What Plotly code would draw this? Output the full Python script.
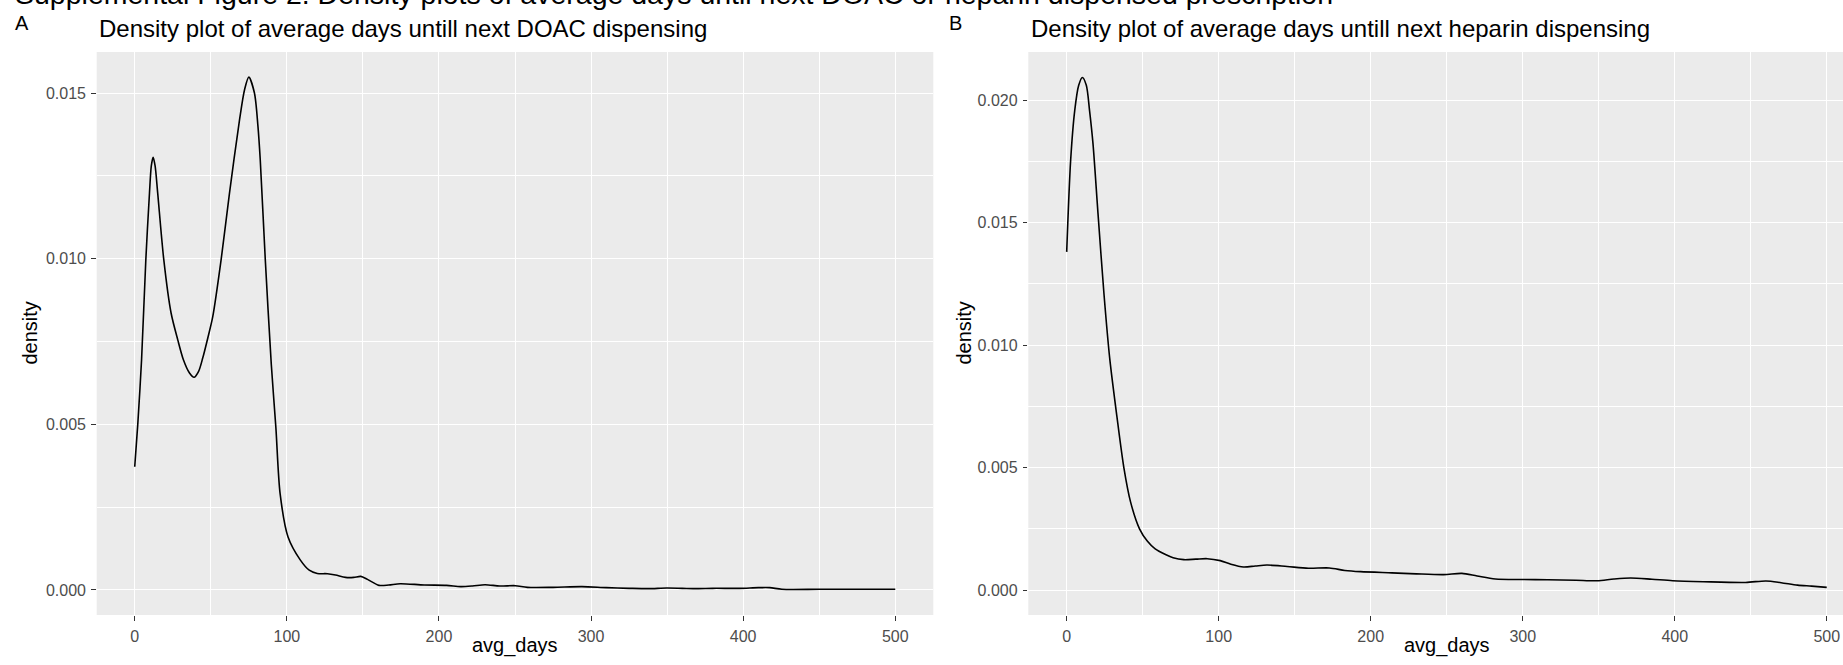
import plotly.graph_objects as go

# ---------------- data ----------------
doac_days = [0, 2, 4.5, 7.3, 9.7, 10.9, 12.1, 13.4, 15.1, 19.1, 23.9, 28.3, 32, 36, 39, 42,
             44.7, 48, 51.3, 56.8, 62.3, 68.9, 72.2, 75, 78.7, 81, 82.5, 85.8, 89.8, 92.8,
             95.6, 100.8, 108.8, 114.7, 120, 126.7, 132, 138.6, 144, 148.6, 153, 160.6,
             167, 174.5, 190.4, 205, 214.3, 222, 230.3, 240, 250.2, 258.2, 275, 294, 310,
             325, 337.8, 349.8, 360, 369.7, 380, 397.6, 410, 417.5, 425.5, 450, 475, 500]
doac_density = [0.00372, 0.0050, 0.00695, 0.00997, 0.01198, 0.0128, 0.01306, 0.0128, 0.01198,
                0.00997, 0.00836, 0.00755, 0.00695, 0.00655, 0.00642, 0.0066, 0.0070,
                0.0076, 0.00825, 0.00997, 0.01198, 0.01419, 0.0151, 0.01548, 0.0150,
                0.0140, 0.0130, 0.0100, 0.0068, 0.0049, 0.0029, 0.0016, 0.00091, 0.0006,
                0.0005, 0.00049, 0.00045, 0.00038, 0.00038, 0.00041, 0.00032, 0.00014,
                0.00015, 0.00019, 0.00015, 0.00014, 0.0001, 0.00012, 0.00016, 0.00012,
                0.00013, 0.00008, 0.00008, 0.0001, 0.00007, 0.00005, 0.00004, 0.00006,
                0.00005, 0.00004, 0.00005, 0.00005, 0.00007, 0.00007, 0.00002, 0.00002,
                0.00002, 0.00002]

heparin_days = [0, 2.6, 5.3, 7.9, 10.3, 12.9, 15, 17.3, 20.6, 24.5, 28.3, 33, 37.6, 42,
                47.9, 53, 58.2, 65, 70, 77, 85, 92.4, 101, 108, 116.3, 124, 131.7, 145,
                159, 172.8, 183, 193.3, 213.9, 230, 248, 260, 270, 282, 300, 316.5, 335,
                349, 360, 371, 385, 398.7, 419, 446.6, 460, 470, 480.8, 490, 500]
heparin_density = [0.01381, 0.01755, 0.01959, 0.02061, 0.02093, 0.02061, 0.0196, 0.01823,
                   0.01537, 0.01211, 0.00946, 0.0071, 0.0050, 0.0036, 0.0025, 0.0020,
                   0.00168, 0.00145, 0.00132, 0.00124, 0.00126, 0.00128, 0.0012, 0.00105,
                   0.00094, 0.00098, 0.00102, 0.00096, 0.00089, 0.0009, 0.0008, 0.00075,
                   0.0007, 0.00066, 0.00063, 0.00068, 0.00057, 0.00045, 0.00043, 0.00042,
                   0.0004, 0.00038, 0.00045, 0.00049, 0.00044, 0.00038, 0.00034, 0.00031,
                   0.00037, 0.0003, 0.0002, 0.00016, 0.00011]

x_ticks = [0, 100, 200, 300, 400, 500]
doac_y_ticks = [0.0, 0.005, 0.010, 0.015]
heparin_y_ticks = [0.0, 0.005, 0.010, 0.015, 0.020]

fig_title = "Supplemental Figure 2. Density plots of average days until next DOAC or heparin dispensed prescription"
title_a = "Density plot of average days untill next DOAC dispensing"
title_b = "Density plot of average days untill next heparin dispensing"

# ---------------- layout helpers ----------------
W, H = 1843, 665
FONT = "Liberation Sans, Arial, sans-serif"


def px(x):
    return x / W


def py(y):
    return 1 - y / H


fig = go.Figure()
fig.add_trace(go.Scatter(x=doac_days, y=doac_density, mode="lines",
                         line=dict(color="black", width=1.6, shape="spline", smoothing=0.8),
                         xaxis="x", yaxis="y", showlegend=False, hoverinfo="skip"))
fig.add_trace(go.Scatter(x=heparin_days, y=heparin_density, mode="lines",
                         line=dict(color="black", width=1.6, shape="spline", smoothing=0.8),
                         xaxis="x2", yaxis="y2", showlegend=False, hoverinfo="skip"))

tick_font = dict(family=FONT, size=16, color="#4D4D4D")
common_x = dict(tickvals=x_ticks, ticktext=[str(v) for v in x_ticks], showgrid=True,
                gridcolor="white", gridwidth=1.3, zeroline=False, showline=False,
                ticks="outside", ticklen=4.5, tickwidth=1.1, tickcolor="#333333",
                tickfont=tick_font, ticklabelstandoff=2,
                minor=dict(tickvals=[50, 150, 250, 350, 450], showgrid=True,
                           gridcolor="white", gridwidth=0.7, ticks=""))
common_y = dict(showgrid=True, gridcolor="white", gridwidth=1.3, zeroline=False,
                showline=False, ticks="outside", ticklen=4.5, tickwidth=1.1,
                tickcolor="#333333", tickfont=tick_font, tickformat=".3f",
                ticklabelstandoff=2)

fig.update_layout(
    width=W, height=H,
    margin=dict(l=0, r=0, t=0, b=0),
    paper_bgcolor="white", plot_bgcolor="#EBEBEB",
    font=dict(family=FONT, color="black"),
    xaxis=dict(domain=[px(96.7), px(933.3)], range=[-25, 525], anchor="y", **common_x),
    yaxis=dict(domain=[py(615), py(52)], range=[-0.000755, 0.016238], anchor="x",
               tickvals=doac_y_ticks,
               minor=dict(tickvals=[0.0025, 0.0075, 0.0125], showgrid=True,
                          gridcolor="white", gridwidth=0.7, ticks=""),
               **common_y),
    xaxis2=dict(domain=[px(1028.3), 1.0], range=[-25.26, 510.7], anchor="y2", **common_x),
    yaxis2=dict(domain=[py(615), py(52)], range=[-0.00102, 0.021971], anchor="x2",
                tickvals=heparin_y_ticks,
                minor=dict(tickvals=[0.0025, 0.0075, 0.0125, 0.0175], showgrid=True,
                           gridcolor="white", gridwidth=0.7, ticks=""),
                **common_y),
)

ann = []
ann.append(dict(text=fig_title, x=px(13), y=py(-6), xanchor="left", yanchor="middle",
                font=dict(family=FONT, size=28.5, color="black")))
for tag, tx in (("A", 13), ("B", 947)):
    ann.append(dict(text=tag, x=px(tx), y=py(23), xanchor="left", yanchor="middle",
                    font=dict(family=FONT, size=20, color="black")))
for t, tx in ((title_a, 97), (title_b, 1029)):
    ann.append(dict(text=t, x=px(tx), y=py(28.9), xanchor="left", yanchor="middle",
                    font=dict(family=FONT, size=24, color="black")))
for cx in (515, 1446.5):
    ann.append(dict(text="avg_days", x=px(cx), y=py(645), xanchor="center",
                    yanchor="middle", font=dict(family=FONT, size=20, color="black")))
for cx in (29, 963):
    ann.append(dict(text="density", x=px(cx), y=py(333.5), xanchor="center",
                    yanchor="middle", textangle=-90,
                    font=dict(family=FONT, size=20, color="black")))
for a in ann:
    a.update(xref="paper", yref="paper", showarrow=False)
fig.update_layout(annotations=ann)

fig.write_html("out.html")
